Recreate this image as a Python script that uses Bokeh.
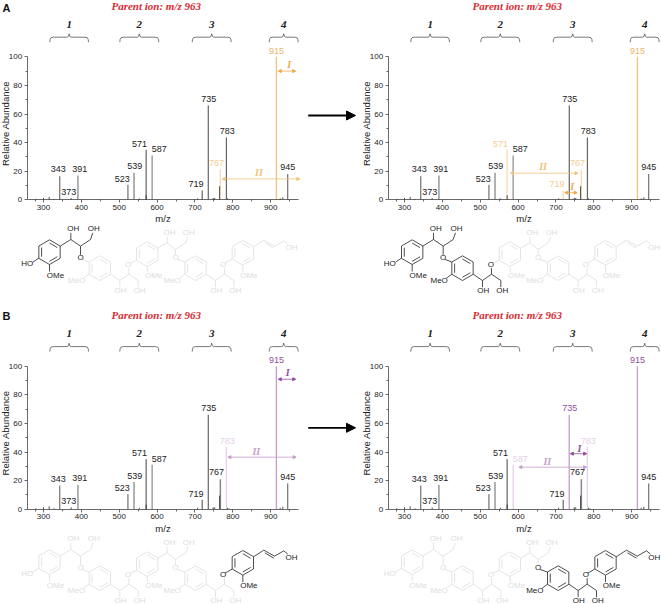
from bokeh.plotting import figure
from bokeh.models import Range1d, LinearAxis, FixedTicker, Arrow, NormalHead
from bokeh.core.properties import value
from bokeh.embed import file_html
from bokeh.resources import INLINE

W, H = 661, 604

# ---- spectrum data
peak_mz = [343, 391, 523, 539, 571, 587, 719, 735, 767, 783, 915, 945]
peak_ab = [16.5, 17, 10.5, 19, 35, 31, 6.5, 66, 21, 43.5, 100, 18]
peak_w = [1, 1, 1, 1.3, 1, 1.7, 1, 1, 1.5, 1.2, 1.2, 1]
peak_c = ["#555555", "#666666", "#555555", "#888888", "#444444", "#aaaaaa", "#444444", "#444444", "#888888", "#666666", "#444444", "#555555"]
small_mz = [280, 300, 315, 328, 373, 553, 571, 707, 748, 752, 765, 786, 790, 925, 932]
small_ab = [0.7, 1.3, 2, 0.6, 1.2, 1, 3.2, 1, 1.3, 1.3, 9.5, 1, 0.5, 1, 1.7]
label_names = ["343", "373", "391", "523", "539", "571", "587", "719", "735", "767", "783", "915", "945"]
label_mz = [338.8, 366.8, 395.9, 507.8, 541, 553.5, 605.5, 703, 736.5, 756.8, 785, 915.3, 945]
label_ab = [21.2, 5.8, 21.7, 14.7, 23.5, 39.2, 35.4, 10.9, 70.6, 25.9, 48, 104.4, 22.8]
x_ticks = [300, 400, 500, 600, 700, 800, 900]
x_minor = [280, 350, 450, 550, 650, 750, 850, 950]
y_ticks = [0, 20, 40, 60, 80, 100]
y_minor = [10, 30, 50, 70, 90]

ORANGE, ORANGE_L, ORANGE_T = "#f0c27c", "#f6dcb0", "#eda94a"
PURPLE, PURPLE_L, PURPLE_T = "#c69ccb", "#e6cfe8", "#8f4f9e"

panels = [
    dict(name="AL", dx=0, dy=0, strong=[915], light=[767], col=ORANGE, coll=ORANGE_L, txt=ORANGE_T,
         I=(920, 966, 90), II=(772, 977, 14.6), Il=(949, 94.6), IIl=(869, 19.3)),
    dict(name="AR", dx=361, dy=0, strong=[915], light=[767, 571, 719], col=ORANGE, coll=ORANGE_L, txt=ORANGE_T,
         I=(723, 756, 5), II=(580, 758, 18.6), Il=(743, 9.5), IIl=(666, 23)),
    dict(name="BL", dx=0, dy=309.4, strong=[915], light=[783], col=PURPLE, coll=PURPLE_L, txt=PURPLE_T,
         I=(920, 966, 90.9), II=(787, 967, 36.4), Il=(945, 95.6), IIl=(862, 40.6)),
    dict(name="BR", dx=361, dy=309.4, strong=[915, 735], light=[783, 587], col=PURPLE, coll=PURPLE_L, txt=PURPLE_T,
         I=(738, 781, 38.8), II=(602, 781, 29.4), Il=(762, 42.5), IIl=(677, 33.6)),
]

FONT = value("Liberation Sans")
SERIF = value("Liberation Serif")
XS, YS = 0.3787, 1.43  # px per unit

p = figure(width=W, height=H, x_range=Range1d(0, W), y_range=Range1d(H, 0),
           x_axis_type=None, y_axis_type=None, toolbar_location=None, output_backend="svg",
           min_border=0, outline_line_color=None, margin=(0, 0, 0, 0))
p.grid.visible = False

for pn in panels:
    xn, yn = "x" + pn["name"], "y" + pn["name"]
    x0 = 43 + pn["dx"]
    y0 = 199.3 + pn["dy"]
    p.extra_x_ranges[xn] = Range1d(300 - x0 / XS, 300 + (W - x0) / XS)
    p.extra_y_ranges[yn] = Range1d((y0 - H) / YS, y0 / YS)
    kw = dict(x_range_name=xn, y_range_name=yn)

    xax = LinearAxis(fixed_location=0, bounds=(257, 973), axis_label="m/z", **kw)
    xax.ticker = FixedTicker(ticks=x_ticks, minor_ticks=x_minor)
    yax = LinearAxis(fixed_location=257, bounds=(0, 100), **kw)
    yax.ticker = FixedTicker(ticks=y_ticks, minor_ticks=y_minor)
    for a in (xax, yax):
        a.axis_line_color = "#444444"
        a.major_tick_line_color = "#444444"
        a.minor_tick_line_color = "#444444"
        a.axis_line_width = 0.8
        a.major_tick_line_width = 0.8
        a.minor_tick_line_width = 0.8
        a.major_tick_in = 0
        a.minor_tick_in = 0
        a.major_tick_out = 3
        a.minor_tick_out = 2
        a.major_label_text_font = "Liberation Sans"
        a.major_label_text_font_size = "8px"
        a.major_label_text_color = "#222222"
        a.major_label_standoff = 2
        a.axis_label_text_font = "Liberation Sans"
        a.axis_label_text_font_size = "9.5px"
        a.axis_label_text_font_style = "normal"
        a.axis_label_text_color = "#222222"
        a.axis_label_standoff = 0
    p.add_layout(xax, "below")
    p.add_layout(yax, "left")
    p.text([5 + pn["dx"]], [123 + pn["dy"]], text=["Relative Abundance"], angle=90, angle_units="deg",
           text_color="#222222", text_font=FONT, text_font_size="9.5px", text_align="center", text_baseline="middle")

    # peaks
    strong, light = pn["strong"], pn["light"]
    cols, wids = [], []
    for m, c, w in zip(peak_mz, peak_c, peak_w):
        if m in strong:
            cols.append(pn["col"]); wids.append(1.3)
        elif m in light:
            cols.append(pn["coll"]); wids.append(1.3)
        else:
            cols.append(c); wids.append(w)
    p.segment(peak_mz, [0] * len(peak_mz), peak_mz, peak_ab, line_color=cols, line_width=wids, **kw)
    p.segment(small_mz, [0] * len(small_mz), small_mz, small_ab, line_color="#222222", line_width=0.8, **kw)

    tcols = []
    for n in label_names:
        m = int(n)
        tcols.append(pn["txt"] if m in strong else (pn["coll"] if m in light else "#222222"))
    if pn["name"] in ("AL", "AR"):
        tcols = [("#eeb56a" if c == pn["txt"] else ("#f4cd92" if c == pn["coll"] else c)) for c in tcols]
    p.text(label_mz, label_ab, text=label_names, text_color=tcols, text_font=FONT, text_font_size="9px",
           text_align="center", text_baseline="middle", **kw)

    # I and II arrows
    for key, col in (("I", pn["txt"]), ("II", pn["col"])):
        a, b, yy = pn[key]
        p.add_layout(Arrow(start=NormalHead(size=3, fill_color=col, line_color=col),
                           end=NormalHead(size=3, fill_color=col, line_color=col),
                           x_start=a, x_end=b, y_start=yy, y_end=yy, line_color=col, line_width=0.8,
                           x_range_name=xn, y_range_name=yn))
    p.text([pn["Il"][0]], [pn["Il"][1]], text=["I"], text_color=pn["txt"], text_font=SERIF, text_font_style="bold italic",
           text_font_size="10px", text_align="center", text_baseline="middle", **kw)
    p.text([pn["IIl"][0]], [pn["IIl"][1]], text=["II"], text_color=pn["col"], text_font=SERIF, text_font_style="bold italic",
           text_font_size="10px", text_align="center", text_baseline="middle", **kw)

    # title, group numbers, braces
    ty = 5.5 + (0 if pn["dy"] == 0 else 309.4)
    p.text([155.7 + pn["dx"]], [ty], text=["Parent ion: m/z 963"], text_color="#d92b33", text_font=SERIF,
           text_font_style="bold italic", text_font_size="11px", text_align="center", text_baseline="middle")
    brace_spans = [(49.3, 88), (119.3, 158.3), (191.7, 230.7), (268.7, 297.7)]
    for i, (a, b) in enumerate(brace_spans):
        a += pn["dx"]; b += pn["dx"]
        m = (a + b) / 2
        t = 33.3 + pn["dy"]
        p.text([m], [t - 9.5], text=[str(i + 1)], text_color="#222222", text_font=SERIF, text_font_style="bold italic",
               text_font_size="11px", text_align="center", text_baseline="middle")
        s = t + 3.4
        e = t + 8.4
        xs = [a, a + 0.3, a + 1.2, a + 3.5, m - 2, m - 0.7, m, m + 0.7, m + 2, b - 3.5, b - 1.2, b - 0.3, b]
        ys = [e, s + 2.2, s + 0.5, s, s, s - 0.8, t, s - 0.8, s, s, s + 0.5, s + 2.2, e]
        p.line(xs, ys, line_color="#555555", line_width=0.8)

# panel letters
p.text([2, 2], [7, 315], text=["A", "B"], text_color="#111111", text_font=FONT, text_font_style="bold",
       text_font_size="11px", text_align="left", text_baseline="middle")

# reaction arrows
for yy in (115, 427.3):
    p.add_layout(Arrow(end=NormalHead(size=9, fill_color="#000000", line_color="#000000"),
                       x_start=307.7, x_end=355, y_start=yy, y_end=yy, line_color="#000000", line_width=1.8))

# ---- chemical structures (drawn from one template, in picture units of 1/3 px)
BLACK, PALE = "#222222", "#dcdde0"
R = 37


def hexa(cx, cy):
    return [(cx, cy - R), (cx + 32, cy - R / 2), (cx + 32, cy + R / 2), (cx, cy + R), (cx - 32, cy + R / 2), (cx - 32, cy - R / 2)]


def ring_bonds(cx, cy):
    v = hexa(cx, cy)
    segs = [(v[i], v[(i + 1) % 6]) for i in range(6)]
    f = 0.74
    for i in (0, 2, 4):
        a, b = v[i], v[(i + 1) % 6]
        ia = (cx + (a[0] - cx) * f, cy + (a[1] - cy) * f)
        ib = (cx + (b[0] - cx) * f, cy + (b[1] - cy) * f)
        segs.append((ia, ib))
    return segs


def draw(dx, dy, blacks, oblack):
    """blacks: rings (0-4) drawn black; oblack: linking oxygens (0-3) drawn black."""
    segs = {BLACK: [], PALE: []}
    texts = {BLACK: [], PALE: []}

    def col(i):
        return BLACK if i in blacks else PALE
    rings = [(147, 110), (298, 158), (440, 116), (585, 158), (727, 112)]
    # ring 0 extras
    segs[col(0)] += [((115, 128), (97, 140)), ((147, 147), (147, 168))]
    texts[col(0)] += [(80, 145, "HO"), (165, 180, "OMe")]
    for i, (cx, cy) in enumerate(rings):
        segs[col(i)] += ring_bonds(cx, cy)
    # upper units: ring 0, 2
    for i, (off, oy, ty) in {0: (0, 0, 0), 2: (293, 10, 12)}.items():
        c = col(i)
        segs[c] += [((rings[i][0] + 32, rings[i][1] - 18), (211 + off - (4 if i else 0), 72 + oy)),
                    ((207 + off if i else 211, 72 + oy), (240 + off - (8 if i else 0), 92 + oy)),
                    ((240 + off - (8 if i else 0), 92 + oy), (270 + off - (8 if i else 0), 72 + oy)),
                    ((270 + off - (8 if i else 0), 72 + oy), (277 + off - (8 if i else 0), 52 + ty)),
                    ((207 + off if i else 211, 72 + oy), (207 + off if i else 211, 52 + ty)),
                    ((240 + off - (8 if i else 0), 92 + oy), (240 + off - (8 if i else 0), 118))]
        texts[c] += [((218 + off - (4 if i else 0)), 40 + ty, "OH"), ((280 + off - (8 if i else 0)), 40 + ty, "OH")]
    segs[col(2)] += [((440, 153), (442, 170))]
    texts[col(2)] += [(460, 180, "OMe")]
    # lower units: ring 1, 3
    for i, off in {1: 0, 3: 287}.items():
        c = col(i)
        segs[c] += [((266 + off, 176), (250 + off, 188)),
                    ((330 + off, 176), (358 + off, 195)), ((358 + off, 195), (385 + off, 176)),
                    ((385 + off, 176), (385 + off, 158)), ((358 + off, 195), (358 + off, 215)),
                    ((385 + off, 176), (413 + off, 195)), ((413 + off, 195), (413 + off, 215))]
        texts[c] += [(228 + off, 195, "MeO"), (360 + off, 225, "OH"), (417 + off, 225, "OH")]
    # ring 4 extras
    c = col(4)
    segs[c] += [((727, 149), (727, 170)), ((759, 94), (790, 74)), ((790, 74), (822, 92)), ((793, 82), (820, 98)),
                ((822, 92), (850, 76)), ((850, 76), (862, 86))]
    texts[c] += [(745, 180, "OMe"), (873, 95, "OH")]
    # linking oxygens
    oxy = [(240, 127), (383, 148), (525, 127), (668, 148)]
    for i, (ox, oy) in enumerate(oxy):
        target = hexa(*rings[i + 1])[5 if i % 2 == 0 else 4]
        segs[col(i + 1)] += [((ox + 6, oy + (5 if i % 2 == 0 else -5)), target)]
        texts[BLACK if i in oblack else PALE].append((ox, oy, "O"))
    for c in (PALE, BLACK):
        s = segs[c]
        p.segment([(a[0] + dx) / 3 for a, b in s], [(a[1] + dy) / 3 + 215 for a, b in s],
                  [(b[0] + dx) / 3 for a, b in s], [(b[1] + dy) / 3 + 215 for a, b in s],
                  line_color=c, line_width=0.8)
        t = texts[c]
        p.text([(x + dx) / 3 for x, y, q in t], [(y + dy) / 3 + 215 for x, y, q in t], text=[q for x, y, q in t],
               text_color=c, text_font=FONT, text_font_size="8px", text_align="center", text_baseline="middle")


draw(0, 0, {0}, {0})
draw(1088, 0, {0, 1}, {0, 1})
draw(0, 930, {4}, {3})
draw(1088, 930, {3, 4}, {2, 3})

open("out.html", "w").write(file_html(p, INLINE))
